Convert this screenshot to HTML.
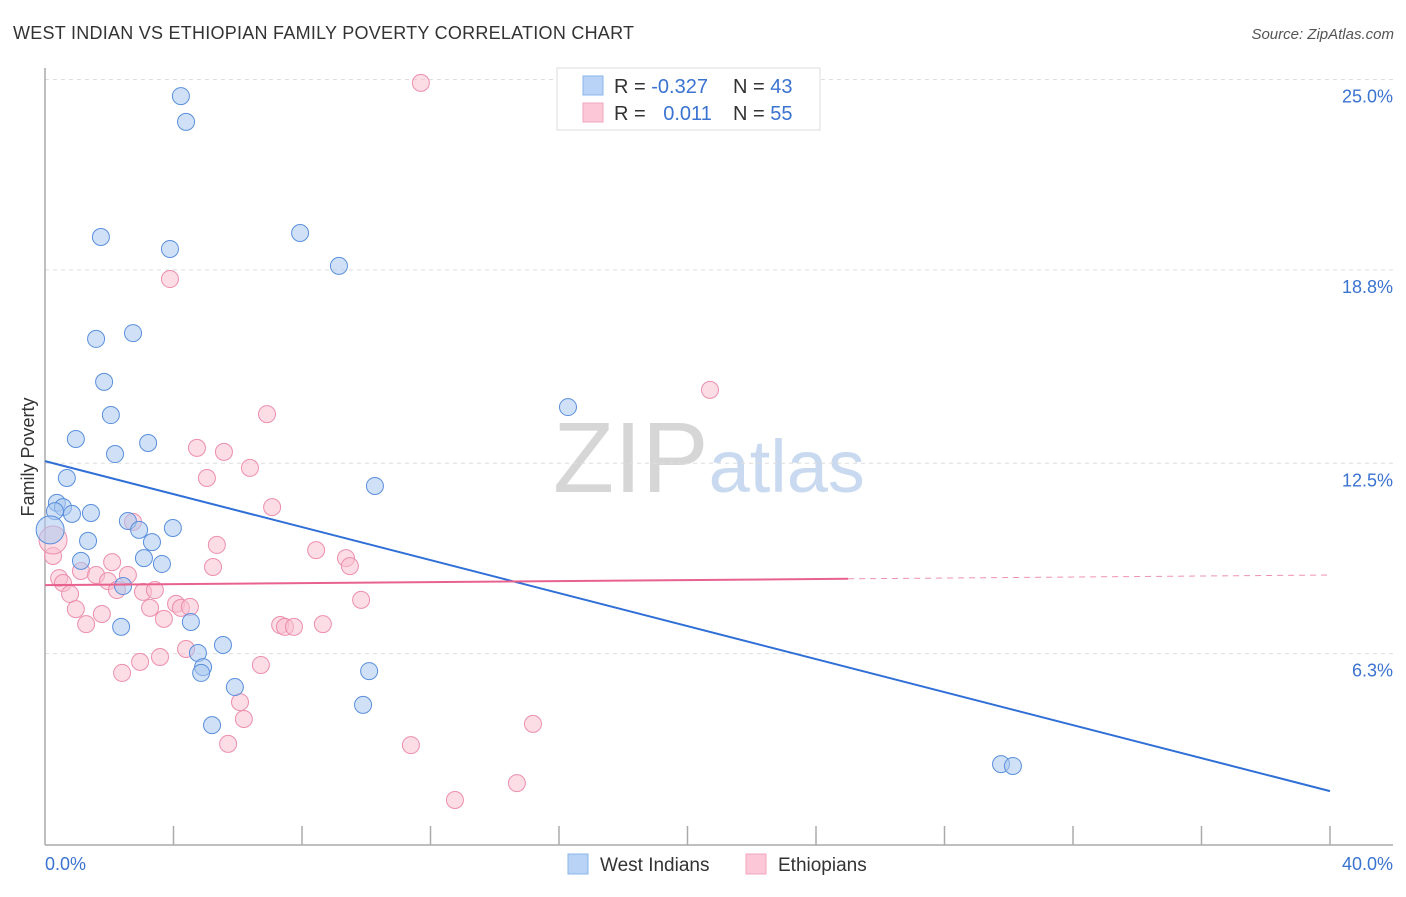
<!DOCTYPE html>
<html><head><meta charset="utf-8"><style>
body{margin:0;background:#fff;font-family:"Liberation Sans",sans-serif;}
svg text{font-family:"Liberation Sans",sans-serif;}
</style></head><body>
<svg id="chart" width="1406" height="892" xmlns="http://www.w3.org/2000/svg">
<text x="13" y="39" font-size="18" fill="#333" textLength="621">WEST INDIAN VS ETHIOPIAN FAMILY POVERTY CORRELATION CHART</text>
<text x="1394" y="39" font-size="15" fill="#555" text-anchor="end" font-style="italic">Source: ZipAtlas.com</text>
<text x="553" y="492" font-size="100" fill="#ddd" font-family="Liberation Serif"><tspan fill="#d6d6d6">ZIP</tspan><tspan fill="#c9daf0" font-family="Liberation Sans" font-size="74">atlas</tspan></text>
<g id="grid"></g>
<g id="axes"></g>
<g id="pts"></g>
<g id="trends"></g>
<text transform="translate(34,457) rotate(-90)" font-size="18" fill="#333" text-anchor="middle">Family Poverty</text>
<g>
<rect x="557" y="68" width="263" height="62" fill="#fff" stroke="#ddd"/>
<rect x="583" y="76" width="20" height="19" fill="#b8d3f5" stroke="#8ab4ea"/>
<rect x="583" y="103" width="20" height="19" fill="#fcc8d7" stroke="#f2a6bd"/>
<text x="614" y="93" font-size="20" fill="#333">R = <tspan fill="#3b73d0">-0.327</tspan></text>
<text x="733" y="93" font-size="20" fill="#333">N = <tspan fill="#3b73d0">43</tspan></text>
<text x="614" y="120" font-size="20" fill="#333">R = <tspan fill="#3b73d0" dx="12">0.011</tspan></text>
<text x="733" y="120" font-size="20" fill="#333">N = <tspan fill="#3b73d0">55</tspan></text>
</g>
<g>
<rect x="568" y="854" width="20" height="20" fill="#b8d3f5" stroke="#8ab4ea"/>
<text x="600" y="871" font-size="19" fill="#333">West Indians</text>
<rect x="746" y="854" width="20" height="20" fill="#fcc8d7" stroke="#f2a6bd"/>
<text x="778" y="871" font-size="19" fill="#333">Ethiopians</text>
</g>
</svg>
<script>
const yTicks=[6.3,12.5,18.8,25.0];
const yTickLabels=["6.3%","12.5%","18.8%","25.0%"];
const xTicks=[0,4,8,12,16,20,24,28,32,36,40];
const blueX=[4.23,4.39,1.74,3.89,7.94,9.15,1.59,2.74,1.84,2.05,0.96,3.21,2.18,0.68,10.27,16.28,0.37,0.56,0.84,1.43,0.31,2.58,2.93,3.98,1.34,3.33,3.08,1.12,3.64,2.43,2.37,4.54,5.54,4.76,4.92,4.86,5.91,5.20,9.90,10.09,29.76,30.13,0.16];
const blueY=[24.46,23.62,19.87,19.48,20.0,18.93,16.55,16.74,15.15,14.07,13.29,13.16,12.80,12.02,11.76,14.33,11.21,11.07,10.85,10.88,10.94,10.62,10.33,10.39,9.97,9.93,9.41,9.32,9.22,8.50,7.17,7.33,6.58,6.32,5.86,5.67,5.21,3.97,4.63,5.73,2.70,2.64,10.33];
const pinkX=[11.70,3.89,20.70,6.91,4.73,5.57,5.04,6.38,7.07,2.74,5.35,8.44,9.37,9.49,5.23,0.25,1.12,2.09,0.44,1.59,1.96,2.58,0.56,0.78,2.24,3.05,3.42,0.96,1.77,3.27,4.08,4.23,4.51,3.70,1.28,7.32,7.47,7.75,8.65,9.84,4.39,3.58,2.96,2.40,6.72,6.07,6.19,5.70,11.39,15.19,14.69,12.76,0.25];
const pinkY=[24.89,18.50,14.89,14.10,13.00,12.87,12.02,12.35,11.07,10.59,9.84,9.67,9.41,9.15,9.12,9.48,8.99,9.28,8.76,8.86,8.66,8.86,8.60,8.24,8.37,8.31,8.37,7.75,7.59,7.79,7.92,7.79,7.82,7.43,7.26,7.23,7.17,7.17,7.26,8.05,6.45,6.19,6.03,5.67,5.93,4.72,4.17,3.36,3.32,4.01,2.08,1.53,10.0];
const blueTrend=[12.57,1.82];
const pinkTrend=[8.53,8.86];
const pinkSolidEnd=25;
const X=v=>45+v*32.125, Y=v=>847-v*30.7;
const NS="http://www.w3.org/2000/svg";
function mk(p,t,a){const e=document.createElementNS(NS,t);for(const k in a)e.setAttribute(k,a[k]);p.appendChild(e);return e;}
const grid=document.getElementById('grid'),axes=document.getElementById('axes'),pts=document.getElementById('pts'),tr=document.getElementById('trends');
yTicks.forEach((t,i)=>{
 const l=mk(grid,'line',{x1:45,x2:1393,y1:Y(t),y2:Y(t),stroke:'#ddd','stroke-dasharray':'4,4'});
 
 
 const tx=mk(axes,'text',{x:1393,y:Y(t)+23,'font-size':18,fill:'#3b73d0','text-anchor':'end'});
 tx.textContent=yTickLabels[i];
 
 
});
mk(axes,'line',{x1:45,x2:45,y1:68,y2:845,stroke:'#aaa','stroke-width':1.5});
mk(axes,'line',{x1:45,x2:1393,y1:845,y2:845,stroke:'#aaa','stroke-width':1.5});
xTicks.forEach(t=>{
 if(t===0)return;
 const l=mk(axes,'line',{x1:X(t),x2:X(t),y1:826,y2:845,stroke:'#aaa','stroke-width':1.5});
 
 
});
const xl0=mk(axes,'text',{x:45,y:870,'font-size':18,fill:'#3b73d0'});xl0.textContent='0.0%';


const xl1=mk(axes,'text',{x:1393,y:870,'font-size':18,fill:'#3b73d0','text-anchor':'end'});xl1.textContent='40.0%';


function dots(xs,ys,fill,stroke,name){
 xs.forEach((x,i)=>{
  const big=i===xs.length-1;
  const c=mk(pts,'circle',{cx:X(x),cy:Y(ys[i]),r:big?14:8.5,fill:fill,'fill-opacity':0.55,stroke:stroke,'stroke-width':1});
  
  
 });
}
dots(pinkX,pinkY,'#f9bfd0','#ec8fae','ethiopian-point');
dots(blueX,blueY,'#aac8f0','#5a8fdc','west-indian-point');
const bl=mk(tr,'line',{x1:X(0),y1:Y(blueTrend[0]),x2:X(40),y2:Y(blueTrend[1]),stroke:'#2f6fd6','stroke-width':2});


const pm=pinkTrend[0]+(pinkTrend[1]-pinkTrend[0])*pinkSolidEnd/40;
const pl=mk(tr,'line',{x1:X(0),y1:Y(pinkTrend[0]),x2:X(pinkSolidEnd),y2:Y(pm),stroke:'#e8628f','stroke-width':2});


const pd=mk(tr,'line',{x1:X(pinkSolidEnd),y1:Y(pm),x2:X(40),y2:Y(pinkTrend[1]),stroke:'#e8628f','stroke-width':1,'stroke-dasharray':'6,5','stroke-opacity':0.7});


</script>
</body></html>
